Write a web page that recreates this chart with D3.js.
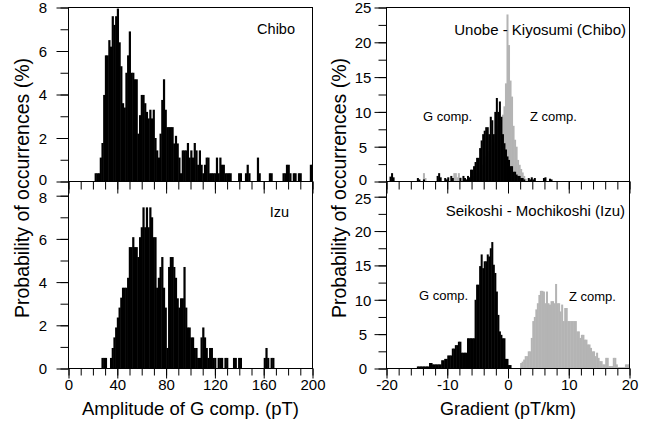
<!DOCTYPE html>
<html><head><meta charset="utf-8">
<script src="https://cdn.jsdelivr.net/npm/d3@7"></script>
<style>
body{margin:0;background:#fff}
svg{display:block}
text{font-family:"Liberation Sans",Arial,Helvetica,sans-serif;fill:#000}
</style>
</head><body>
<svg id="chart" width="658" height="432"></svg>
<script>
// ---------- DATA ----------
// Amplitude histograms (pT), bins of 1.4 pT starting at 21.4 pT
const ampStart = 21.4;
const ampBin = 1.4;
const chiboAmp = [
  0.38,0.38,0.38,1.1,1.77,3.98,5.8,5.8,6.5,6.2,
  7.6,7.2,7.6,7.95,6.4,5.3,3.6,3.4,5.0,5.8,
  6.9,5.0,5.0,4.7,4.7,2.2,3.05,3.98,3.98,3.6,
  3.2,2.9,3.3,2.9,3.3,2.0,1.43,1.1,2.2,3.75,
  4.7,3.3,2.5,2.5,2.5,2.5,1.75,2.1,1.75,1.1,
  0.38,1.43,1.43,1.43,1.77,1.1,1.43,1.1,1.77,1.43,
  0.77,1.43,0.77,0.38,0.77,1.1,1.1,0.38,0.38,0.38,
  0.38,1.1,0.38,1.1,0.77,0.77,0.38,0.38,0.38,0.38,
  0,0,0,0,0.38,0.38,0,0,0.38,0.77,
  0.38,0,0,0,0,1.1,0.38,0,0,0,
  0,0,0.38,0.38,0,0,0,0,0,0,
  0.38,0.38,0.77,0.77,0.38,0,0.38,0.38,0,0.38,
  0.38,0,0,0,0,0,0.77,0.77
];
const izuAmp = [
  0,0,0,0,0.49,0.49,0.49,0,0,0.49,
  0.95,1.44,1.9,2.36,2.82,3.28,3.74,3.74,3.74,4.2,
  5.62,5.62,6.08,5.62,5.62,5.16,6.08,6.54,7.46,6.54,
  7.46,6.54,7.46,7.0,6.08,6.08,3.74,4.2,4.7,5.16,
  3.74,2.82,0.95,4.7,5.16,5.16,4.7,4.2,3.25,2.82,
  3.25,3.25,4.7,2.82,1.9,1.9,1.44,1.44,0.95,0.95,
  0.49,0.49,1.44,1.9,1.44,0.95,0.49,0.95,0.95,0.49,
  0.49,0,0.49,0.49,0.49,0,0.49,0.49,0,0,
  0,0.49,0.49,0,0.49,0.49,0,0,0,0,
  0,0,0,0,0,0,0,0,0,0.49,
  0.95,0.49,0,0.49,0.49
];

// Gradient histograms (pT/km), bins of 0.25 pT/km
const gradBin = 0.25;
const chiboGStart = -19.5;
const chiboG = [
  0.7,1.2,0.6,0,0,0,0,0,0,0,0,0,0,0,0,0,0,0,
  0.5,0.3,0,0,0.3,0,0,0,0,0,0,0,0,
  0.8,1.2,0.6,0,0,0.5,0.3,0.6,0,0.8,0.5,0,0,0,0,0.5,0,0.8,0.5,0.3,
  0.8,0.6,1.7,1.7,2.2,2.8,3.4,3.4,4.8,5.9,6.8,7.3,7.8,7.8,6.8,9.3,8.8,6.8,
  10,12,10,11.5,9.3,6.8,5.5,4.6,3.6,3.1,2.2,2.2,1.4,1.4,1.0,0.8,0.8,0.5,0.5,0.3,
  0,0,0.5,0.3,0.6,0.3,0.5,0,0,0,0,0,0.5,0.6,0,0,0.4,0.3
];
const chiboZStart = -14;
const chiboZ = [
  1.2,0.5,0,0,0,0,0,0,0,0,0,0,0,0,0,0,0,0,0,0,
  1.2,1.2,0.6,1.2,0.6,0,0,0.4,0,0.4,0.4,0.8,0.4,0.8,1.2,0.8,1.6,1.2,2.0,2.4,
  2.8,3.6,4.4,4.0,5.2,6.0,5.6,6.8,7.6,8.0,8.8,9.2,9.6,10.8,14.1,24,19.6,14.5,12.2,8,
  6,5,3.1,2.4,1.8,1.3,0.8,0.4
];
const izuGStart = -15;
const izuG = [
  0.3,0.3,0.3,0.3,0.3,0.3,0.3,0.3,0.8,0.8,0.6,0.6,0.6,0.6,0.6,0.6,
  1.2,1.2,1.4,1.4,1.9,1.9,1.9,2.9,2.9,3.4,3.4,3.9,3.9,2.3,2.3,2.3,2.3,
  4.4,4.4,4.4,4.4,4.4,10,12.2,12.2,14.9,16.6,14.6,15.6,15.6,16.6,16.3,17.5,18.4,
  15.1,13.9,11.2,7.8,5.4,4.9,4.4,4.4,1.4,1.4,0.5,0.5
];
const izuZStart = 2.0;
const izuZ = [
  0.8,1.0,1.3,1.8,1.8,2.5,2.5,4.45,6.9,7.5,8.6,9.5,10.7,11.3,11.3,11.2,
  9.5,11.2,9.5,9.3,9.8,9.8,9.5,12.3,9.5,9.5,8.3,9.3,6.9,8.8,8.8,6.9,
  6.9,6.9,6.9,6.9,6.9,5.4,5.4,4.45,4.9,4.9,4.2,4.2,3.5,3.5,3.0,2.5,
  2.5,1.8,2.3,1.55,1.07,1.07,0.6,0.6,1.55,1.55,0.35,0.35,0.35,1.55,
  1.55,0.6,0.2,0.2,0.2,0.2,0.2,0.6,0.6,0.6
];

// Ticks and labels
const ampMinor = d3.range(0, 201, 10);
const ampMajor = [0, 40, 80, 120, 160, 200];
const gradMinor = d3.range(-20, 21, 2);
const gradMajor = [-20, -10, 0, 10, 20];
const pctLMinor = d3.range(0, 9, 1);
const pctLMajor = [0, 2, 4, 6, 8];
const pctRMinor = d3.range(0, 25.1, 2.5);
const pctRMajor = [0, 5, 10, 15, 20, 25];
const panelNames = ["Chibo", "Izu", "Unobe - Kiyosumi (Chibo)", "Seikoshi - Mochikoshi (Izu)"];
const compNames = ["G comp.", "Z comp."];
const yTitle = "Probability of occurrences (%)";
const xTitleL = "Amplitude of G comp. (pT)";
const xTitleR = "Gradient (pT/km)";

// ---------- DRAWING ----------
const svg = d3.select("#chart");
const BLACK = "#000", GRAY = "#b4b4b4";
const FONT = '"Liberation Sans",Arial,Helvetica,sans-serif';

const xAmp = d3.scaleLinear().domain([0, 200]).range([68.5, 312.5]);
const xGrad = d3.scaleLinear().domain([-20, 20]).range([386.5, 629.5]);
const yTL = d3.scaleLinear().domain([0, 8]).range([181.5, 7.5]);
const yBL = d3.scaleLinear().domain([0, 8]).range([368.5, 195.7]);
const yTR = d3.scaleLinear().domain([0, 25]).range([181.5, 7.5]);
const yBR = d3.scaleLinear().domain([0, 25]).range([368.5, 196.7]);

function bars(x, y, start, bin, values, color) {
  const xmax = x.domain()[1];
  const data = values.map((v, i) => ({x0: start + i * bin, x1: Math.min(start + (i + 1) * bin, xmax), v}))
                     .filter(d => d.v > 0 && d.x0 < xmax);
  svg.append("g").selectAll("rect").data(data).join("rect")
    .attr("x", d => x(d.x0))
    .attr("width", d => Math.min(x(d.x1) - x(d.x0) + 0.5, x(xmax) - x(d.x0)))
    .attr("y", d => y(d.v))
    .attr("height", d => y(0) - y(d.v))
    .attr("fill", color);
}

function frame(x, yTop, yBot) {
  const [x0, x1] = x.range();
  svg.append("rect").attr("x", x0).attr("y", yTop).attr("width", x1 - x0).attr("height", yBot - yTop)
    .attr("fill", "none").attr("stroke", BLACK).attr("stroke-width", 1);
}

// shift: optional {value: pixel nudge} for labels that would touch the next panel's labels
function yAxis(y, xPos, minor, major, labelOffset, shift) {
  svg.append("g").attr("transform", `translate(${xPos},0)`)
    .call(d3.axisLeft(y).tickValues(minor).tickSize(8).tickFormat(""))
    .call(g => g.select(".domain").remove());
  const g = svg.append("g").attr("transform", `translate(${xPos},0)`)
    .call(d3.axisLeft(y).tickValues(major).tickSize(12).tickFormat(d => String(d)))
    .call(g => g.select(".domain").remove());
  g.attr("font-size", 15).attr("font-family", FONT);
  g.selectAll("text").attr("x", -labelOffset).attr("text-anchor", "middle").attr("dy", "0.36em")
    .attr("y", d => (shift && shift[d]) || 0);
}

function xAxis(x, yPos, minor, major, withLabels, minorLen, majorLen) {
  svg.append("g").attr("transform", `translate(0,${yPos})`)
    .call(d3.axisBottom(x).tickValues(minor).tickSize(minorLen).tickFormat(""))
    .call(g => g.select(".domain").remove());
  const g = svg.append("g").attr("transform", `translate(0,${yPos})`)
    .call(d3.axisBottom(x).tickValues(major).tickSize(majorLen).tickFormat(d => withLabels ? String(d) : ""))
    .call(g => g.select(".domain").remove());
  g.attr("font-size", 15).attr("font-family", FONT);
  g.selectAll("text").attr("y", 10.5).attr("dy", "0.71em");
}

function label(text, x, y, size, anchor) {
  svg.append("text").attr("x", x).attr("y", y).attr("font-size", size)
    .attr("text-anchor", anchor || "start").text(text);
}

// Left column
bars(xAmp, yTL, ampStart, ampBin, chiboAmp, BLACK);
bars(xAmp, yBL, ampStart, ampBin, izuAmp, BLACK);
frame(xAmp, 7.5, 181.5);
frame(xAmp, 181.5, 368.5);
yAxis(yTL, 68.5, pctLMinor, pctLMajor, 25.5, {0: -2});
yAxis(yBL, 68.5, pctLMinor, pctLMajor, 25.5, {8: 1.5});
xAxis(xAmp, 181.5, ampMinor, ampMajor, false, 8, 12);
xAxis(xAmp, 368.5, ampMinor, ampMajor, true, 7, 10);

// Right column (Z comp. in gray behind, G comp. in black on top)
bars(xGrad, yTR, chiboZStart, gradBin, chiboZ, GRAY);
bars(xGrad, yTR, chiboGStart, gradBin, chiboG, BLACK);
bars(xGrad, yBR, izuZStart, gradBin, izuZ, GRAY);
bars(xGrad, yBR, izuGStart, gradBin, izuG, BLACK);
frame(xGrad, 7.5, 181.5);
frame(xGrad, 181.5, 368.5);
yAxis(yTR, 386.5, pctRMinor, pctRMajor, 23.5, {0: -2});
yAxis(yBR, 386.5, pctRMinor, pctRMajor, 23.5, {25: 1.5});
xAxis(xGrad, 181.5, gradMinor, gradMajor, false, 8, 12);
xAxis(xGrad, 368.5, gradMinor, gradMajor, true, 7, 10);

// Panel labels
label(panelNames[0], 295, 34, 14.5, "end");
label(panelNames[1], 289, 216.5, 14.5, "end");
label(panelNames[2], 626, 35, 15, "end");
label(panelNames[3], 625, 216, 15, "end");
label(compNames[0], 423, 121, 13);
label(compNames[1], 530, 121, 13);
label(compNames[0], 419, 299.5, 13);
label(compNames[1], 569, 300.5, 13);

// Axis titles
label(xTitleL, xAmp(100), 415, 18.5, "middle");
label(xTitleR, xGrad(0), 415, 18, "middle");
svg.append("text").attr("transform", "translate(29,188) rotate(-90)")
  .attr("text-anchor", "middle").attr("font-size", 19.5).text(yTitle);
svg.append("text").attr("transform", "translate(345.5,188) rotate(-90)")
  .attr("text-anchor", "middle").attr("font-size", 19.5).text(yTitle);
</script>
</body></html>
